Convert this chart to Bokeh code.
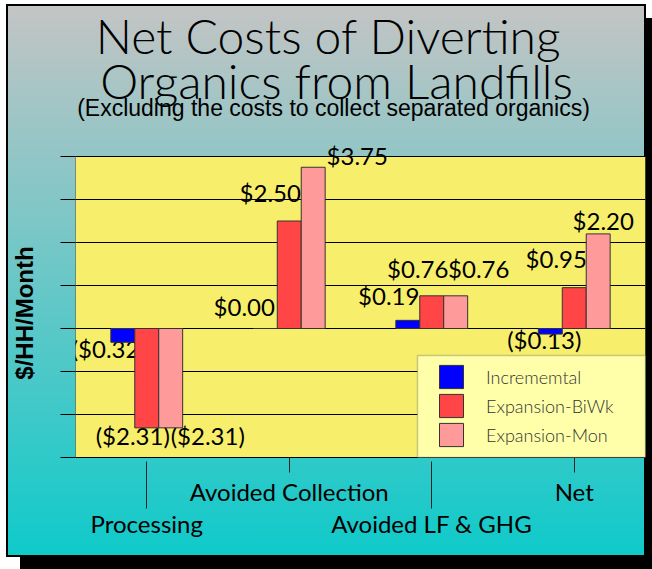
from bokeh.plotting import figure
from bokeh.models import (ColumnDataSource, Range1d, LinearAxis, FixedTicker,
                          LabelSet, Label, Legend, LegendItem, BoxAnnotation)
from bokeh.transform import dodge
from bokeh.core.properties import value
from bokeh.embed import file_html
from bokeh.resources import INLINE

# ---------------- data ----------------
categories = ["Processing", "Avoided Collection", "Avoided LF & GHG", "Net"]
series_names = ["Incrememtal", "Expansion-BiWk", "Expansion-Mon"]
incremental = [-0.32, 0.00, 0.19, -0.13]
expansion_biwk = [-2.31, 2.50, 0.76, 0.95]
expansion_mon = [-2.31, 3.75, 0.76, 2.20]
y_ticks = [-3, -2, -1, 0, 1, 2, 3, 4]
upper_row = ["Avoided Collection", "Net"]
lower_row = ["Processing", "Avoided LF & GHG"]
title_lines = ["Net Costs of Diverting", "Organics from Landfills"]
subtitle = "(Excluding the costs to collect separated organics)"
y_title = "$/HH/Month"

# ---------------- styles / layout ----------------
series_cols = ["inc", "biwk", "mon"]
colors = ["#0000ff", "#ff4545", "#ff9a9a"]
bar_w = 0.168
offsets = [-bar_w, 0.0, bar_w]
# label offsets in px relative to category centre / bar end (dy positive = down)
label_dx = [[-38, -45, -43, -30], [-14, -19, -14, -18], [61, 68, 47, 29]]
label_dy = [[6, -22, -25, 5], [8, -28.5, -27, -29], [8, -12, -27, -13]]
FONT = "Lato"
LIGHT = "Lato Light"
W, H = 640, 553
BORDER_L, BORDER_B, BORDER_R = 69, 100, 1
PX_PER_UNIT = 43.0
y_title_at = 0.36


def fmt(v):
    return f"${v:.2f}" if v >= 0 else f"(${-v:.2f})"


pos = {c: i + 0.5 for i, c in enumerate(categories)}
xc = [pos[c] for c in categories]
y_min = min(y_ticks)
frame_h = H - BORDER_B

p = figure(x_range=Range1d(0, len(categories)),
           y_range=Range1d(y_min, y_min + frame_h / PX_PER_UNIT),
           width=W, height=H, output_backend="svg", toolbar_location=None,
           x_axis_location=None, y_axis_location="left",
           min_border_left=BORDER_L, min_border_right=BORDER_R, min_border_top=0,
           min_border_bottom=BORDER_B)
p.title.visible = False
p.background_fill_color = None
p.border_fill_color = None
p.outline_line_color = None
p.styles = {"background": "linear-gradient(180deg, #c4c4c4 0%, #0fcaca 100%)",
            "box-shadow": "inset 0 0 0 2px #000000, 14px 14px 0 0 #000000",
            "margin-left": "6px", "margin-top": "4px"}

# yellow plotting area
p.quad(left=0, right=len(categories), bottom=y_min, top=max(y_ticks),
       fill_color="#f7ef6b", line_color="#444444", line_width=1, level="image")

# y axis: tick marks only, extended like the 3-D wall
yax = p.yaxis[0]
yax.ticker = FixedTicker(ticks=y_ticks)
yax.major_tick_out = 15
yax.major_tick_in = 0
yax.minor_tick_out = 0
yax.minor_tick_in = 0
yax.major_tick_line_color = "black"
yax.axis_line_color = None
yax.major_label_standoff = 0
yax.major_label_text_font_size = "1px"
yax.major_label_text_color = None
p.ygrid[0].ticker = yax.ticker
p.ygrid.grid_line_color = "black"
p.xgrid.grid_line_color = None

# y title (vertical)
ytitle_axis = LinearAxis(ticker=FixedTicker(ticks=[y_title_at]),
                         major_label_overrides={y_title_at: y_title},
                         major_label_orientation="vertical",
                         major_tick_out=0, major_tick_in=0, minor_tick_in=0, minor_tick_out=0,
                         major_tick_line_color=None, axis_line_color=None,
                         major_label_standoff=22,
                         major_label_text_font="Liberation Sans",
                         major_label_text_font_style="bold",
                         major_label_text_font_size="24px",
                         major_label_text_color="black")
p.add_layout(ytitle_axis, "left")

# bars
src = ColumnDataSource(dict(xc=xc, cat=categories, inc=incremental,
                            biwk=expansion_biwk, mon=expansion_mon))
renderers = []
for col, off, c in zip(series_cols, offsets, colors):
    r = p.vbar(x=dodge("xc", off), top=col, bottom=0, width=bar_w,
               source=src, fill_color=c, line_color="#333333", line_width=1)
    renderers.append(r)

# value labels (drawn beneath the bars, as in the original)
series_vals = [incremental, expansion_biwk, expansion_mon]
lab = dict(x=[], val=[], txt=[], dx=[], dy=[])
for s, vals in enumerate(series_vals):
    for i, v in enumerate(vals):
        lab["x"].append(xc[i])
        lab["val"].append(v)
        lab["txt"].append(fmt(v))
        lab["dx"].append(label_dx[s][i])
        lab["dy"].append(-label_dy[s][i])
p.add_layout(LabelSet(x="x", y="val", text="txt", x_offset="dx", y_offset="dy",
                      source=ColumnDataSource(lab), text_font=value(FONT),
                      text_font_size="24px", text_color="black", text_align="center",
                      text_baseline="middle", level="underlay"))

# category axes (staggered)
axA = LinearAxis(ticker=FixedTicker(ticks=[pos[c] for c in upper_row]),
                 major_label_overrides={pos[c]: c for c in upper_row},
                 major_tick_out=15, major_tick_in=0, minor_tick_in=0, minor_tick_out=0,
                 major_label_standoff=4, axis_line_color="black",
                 major_tick_line_color="#222222",
                 major_label_text_font=FONT, major_label_text_font_size="24px",
                 major_label_text_color="black")
axB = LinearAxis(ticker=FixedTicker(ticks=[pos[c] for c in lower_row]),
                 major_label_overrides={pos[c]: c for c in lower_row},
                 major_tick_out=0, major_tick_in=47, minor_tick_in=0, minor_tick_out=0,
                 major_label_standoff=0, axis_line_color=None,
                 major_tick_line_color="#222222",
                 major_label_text_font=FONT, major_label_text_font_size="24px",
                 major_label_text_color="black")
p.add_layout(axA, "below")
p.add_layout(axB, "below")

# titles (frame-relative screen units)
p.add_layout(Label(x=253, y=422, x_units="screen", y_units="screen", text=title_lines[0],
                   text_font=LIGHT, text_font_size="48px", text_align="center",
                   text_baseline="alphabetic", text_color="black"))
p.add_layout(Label(x=261, y=377, x_units="screen", y_units="screen", text=title_lines[1],
                   text_font=LIGHT, text_font_size="48px", text_align="center",
                   text_baseline="alphabetic", text_color="black"))
p.add_layout(Label(x=258, y=350, x_units="screen", y_units="screen", text=subtitle,
                   text_font="Liberation Sans", text_font_size="23px", text_align="center",
                   text_baseline="alphabetic", text_color="black"))

# legend
p.add_layout(BoxAnnotation(left=342, right=570, bottom=0, top=102,
                           left_units="screen", right_units="screen",
                           top_units="screen", bottom_units="screen",
                           fill_color="#ffffaa", fill_alpha=1, line_color="#555555",
                           line_width=1.5, level="annotation"))
legend = Legend(items=[LegendItem(label=n, renderers=[r]) for n, r in zip(series_names, renderers)],
                location=(361, 8), padding=0, spacing=0, margin=0,
                glyph_width=30, glyph_height=29, label_standoff=20,
                background_fill_alpha=0, border_line_color=None,
                label_text_font=LIGHT, label_text_font_size="18px",
                label_text_color="#333333")
p.add_layout(legend)

open("out.html", "w").write(file_html(p, INLINE))
